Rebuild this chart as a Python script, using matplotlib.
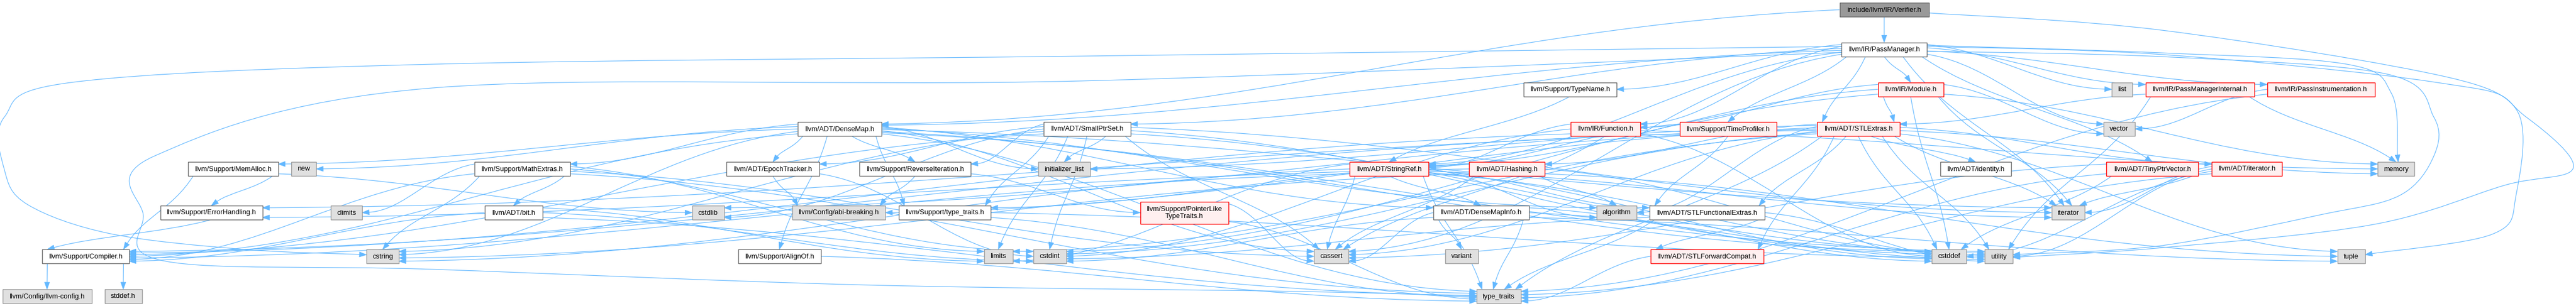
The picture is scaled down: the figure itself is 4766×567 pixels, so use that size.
import matplotlib
matplotlib.use("Agg")
import matplotlib.pyplot as plt
from matplotlib.path import Path
from matplotlib.patches import PathPatch, Rectangle, Polygon
import numpy as np

W, H, DPI = 4766, 567, 100

# ---------------- data: nodes (labels + kind) ----------------
labels = {
    "V": "include/llvm/IR/Verifier.h", "PM": "llvm/IR/PassManager.h",
    "TN": "llvm/Support/TypeName.h", "MOD": "llvm/IR/Module.h", "LIST": "list",
    "PMI": "llvm/IR/PassManagerInternal.h", "PI": "llvm/IR/PassInstrumentation.h",
    "DM": "llvm/ADT/DenseMap.h", "SPS": "llvm/ADT/SmallPtrSet.h", "FN": "llvm/IR/Function.h",
    "TP": "llvm/Support/TimeProfiler.h", "STLE": "llvm/ADT/STLExtras.h", "VEC": "vector",
    "MA": "llvm/Support/MemAlloc.h", "NEW": "new", "ME": "llvm/Support/MathExtras.h",
    "ET": "llvm/ADT/EpochTracker.h", "RI": "llvm/Support/ReverseIteration.h",
    "IL": "initializer_list", "SR": "llvm/ADT/StringRef.h", "HA": "llvm/ADT/Hashing.h",
    "ID": "llvm/ADT/identity.h", "TPV": "llvm/ADT/TinyPtrVector.h", "ITH": "llvm/ADT/iterator.h",
    "MEM": "memory", "EH": "llvm/Support/ErrorHandling.h", "CLIM": "climits",
    "BIT": "llvm/ADT/bit.h", "CSTDLIB": "cstdlib", "ABI": "llvm/Config/abi-breaking.h",
    "STT": "llvm/Support/type_traits.h", "PLT": "llvm/Support/PointerLike\nTypeTraits.h",
    "DMI": "llvm/ADT/DenseMapInfo.h", "ALG": "algorithm", "SFE": "llvm/ADT/STLFunctionalExtras.h",
    "ITER": "iterator", "COMP": "llvm/Support/Compiler.h", "CSTRING": "cstring",
    "AO": "llvm/Support/AlignOf.h", "LIM": "limits", "CSTDINT": "cstdint", "CASSERT": "cassert",
    "VAR": "variant", "SFC": "llvm/ADT/STLForwardCompat.h", "CSTDDEF": "cstddef",
    "UTIL": "utility", "TUPLE": "tuple", "LLC": "llvm/Config/llvm-config.h",
    "STDDEF": "stddef.h", "TT": "type_traits",
}
root_nodes = ["V"]
red_nodes = ["MOD", "PMI", "PI", "FN", "TP", "STLE", "SR", "HA", "TPV", "ITH", "PLT", "SFC"]
system_nodes = ["LIST", "VEC", "MEM", "NEW", "IL", "CLIM", "CSTDLIB", "ABI", "ALG", "ITER",
                "VAR", "CASSERT", "CSTRING", "LIM", "CSTDINT", "CSTDDEF", "UTIL", "TUPLE",
                "LLC", "STDDEF", "TT"]

# ---------------- data: include edges ----------------
includes = {
    "V": ["DM", "PM", "UTIL"],
    "PM": ["DM", "SPS", "FN", "TP", "STLE", "MOD", "TN", "SR", "TPV", "PI", "PMI", "CASSERT",
           "CSTRING", "ITER", "LIST", "MEM", "TUPLE", "TT", "UTIL", "VEC"],
    "TN": ["SR"],
    "MOD": ["STLE", "SR", "FN", "CSTDDEF", "CSTDINT", "ITER", "MEM", "VEC"],
    "PMI": ["STLE", "MEM", "UTIL"],
    "PI": ["VEC", "TT"],
    "DM": ["DMI", "ET", "AO", "COMP", "ME", "MA", "RI", "STT", "ALG", "CASSERT", "CSTDDEF",
           "CSTRING", "IL", "ITER", "NEW", "TT", "UTIL"],
    "SPS": ["ET", "COMP", "RI", "STT", "CASSERT", "CSTDDEF", "CSTDLIB", "CSTRING", "IL",
            "ITER", "LIM", "UTIL", "CSTDINT"],
    "FN": ["SR", "COMP", "CASSERT", "CSTDDEF", "CSTDINT", "MEM"],
    "TP": ["SFE", "SR", "COMP"],
    "STLE": ["HA", "SFC", "SFE", "ITH", "ID", "ABI", "EH", "ALG", "CASSERT", "CSTDDEF",
             "CSTDINT", "CSTDLIB", "IL", "ITER", "LIM", "MEM", "TUPLE", "TT", "UTIL"],
    "MA": ["COMP", "EH", "CSTDLIB"],
    "EH": ["COMP"],
    "COMP": ["LLC", "STDDEF"],
    "ME": ["BIT", "COMP", "CASSERT", "CLIM", "CSTDINT", "CSTRING", "LIM", "TT"],
    "BIT": ["COMP", "CSTDINT", "LIM", "TT"],
    "ET": ["ABI", "CSTDINT"],
    "RI": ["ABI", "PLT"],
    "STT": ["TT", "UTIL"],
    "PLT": ["CASSERT", "TT"],
    "AO": ["TT"],
    "DMI": ["CASSERT", "CSTDDEF", "CSTDINT", "TUPLE", "TT", "UTIL", "VAR"],
    "SR": ["DMI", "SFE", "COMP", "ALG", "CASSERT", "CSTDDEF", "CSTRING", "ITER", "LIM", "TT", "UTIL"],
    "HA": ["EH", "STT", "ALG", "CASSERT", "CSTRING", "TUPLE", "UTIL"],
    "SFE": ["SFC", "CSTDINT", "TT", "UTIL"],
    "SFC": ["TT"],
    "TPV": ["CASSERT", "CSTDDEF", "ITER", "TT"],
    "ITH": ["ITER", "CSTDDEF", "TT", "UTIL"],
}

# ---------------- layout (centre x, rank, box width) ----------------
ROW_Y = [18, 91.5, 165.5, 239, 313, 394, 475, 549]
layout = {
    "V": (3486, 0, 165), "PM": (3486, 1, 158),
    "TN": (2905, 2, 172), "MOD": (3535, 2, 121), "LIST": (3926, 2, 38),
    "PMI": (4070, 2, 201), "PI": (4294, 2, 199),
    "DM": (1553, 3, 155), "SPS": (2011, 3, 161), "FN": (2970, 3, 129), "TP": (3197, 3, 179),
    "STLE": (3438, 3, 153), "VEC": (3921, 3, 58),
    "MA": (431, 4, 167), "NEW": (562, 4, 46), "ME": (966, 4, 177), "ET": (1430, 4, 172),
    "RI": (1693, 4, 206), "IL": (1969, 4, 96), "SR": (2570, 4, 146), "HA": (2788, 4, 140),
    "ID": (3655, 4, 131), "TPV": (3982, 4, 170), "ITH": (4157, 4, 130), "MEM": (4433, 4, 68),
    "EH": (391, 5, 189), "CLIM": (641, 5, 58), "BIT": (950, 5, 107), "CSTDLIB": (1310, 5, 59),
    "ABI": (1552, 5, 172), "STT": (1748, 5, 170), "PLT": (2191, 5, 163), "DMI": (2740, 5, 177),
    "ALG": (2991, 5, 74), "SFE": (3158, 5, 213), "ITER": (3826, 5, 61),
    "COMP": (158, 6, 161), "CSTRING": (708, 6, 60), "AO": (1442, 6, 153), "LIM": (1847, 6, 53),
    "CSTDINT": (1942, 6, 61), "CASSERT": (2463, 6, 64), "VAR": (2704, 6, 61),
    "SFC": (3158, 6, 209), "CSTDDEF": (3606, 6, 64), "UTIL": (3698, 6, 52), "TUPLE": (4350, 6, 51),
    "LLC": (87, 7, 165), "STDDEF": (228, 7, 69), "TT": (2773, 7, 82),
}

# hand-routed long edges that go around the drawing (waypoints, layout only)
routes = {
    ("PM", "CSTRING"): [(3407, 86), (2000, 104), (800, 119), (138, 152), (8, 217), (8, 314),
                        (51, 379), (204, 433), (450, 462), (678, 472)],
    ("PM", "TT"): [(3407, 97), (2000, 150), (800, 163), (286, 289), (265, 398), (306, 484),
                   (800, 499), (1600, 528), (2400, 540), (2732, 549)],
    ("V", "UTIL"): [(3569, 24), (4000, 56), (4537, 145), (4674, 217), (4761, 311),
                    (4635, 343), (4391, 416), (4000, 459), (3724, 477)],
    ("PM", "TUPLE"): [(3565, 86), (4000, 101), (4503, 152), (4655, 202), (4655, 362),
                      (4611, 434), (4376, 472)],
    ("PM", "MEM"): [(3565, 84), (4000, 98), (4342, 119), (4425, 174), (4437, 300)],
    ("PM", "UTIL"): [(3565, 95), (4000, 105), (4415, 137), (4503, 217), (4503, 289),
                     (4440, 362), (4293, 398), (4000, 455), (3724, 472)],
}

EDGE_COLOR = "#63B8FF"
FONT = ["Liberation Sans", "DejaVu Sans"]
FS = 9.3


def style(n):
    if n in root_nodes:
        return "#999999", "#666666"
    if n in red_nodes:
        return "#FFF0F0", "#FF0000"
    if n in system_nodes:
        return "#E0E0E0", "#999999"
    return "#FFFFFF", "#666666"


def bbox(n):
    cx, r, w = layout[n]
    h = 41 if "\n" in labels[n] else 26
    cy = ROW_Y[r]
    return cx - w / 2, cx + w / 2, cy - h / 2, cy + h / 2


fig = plt.figure(figsize=(W / DPI, H / DPI), dpi=DPI)
ax = fig.add_axes([0, 0, 1, 1])
ax.set_xlim(0, W)
ax.set_ylim(H, 0)
ax.axis("off")

edge_list = [(s, t) for s in includes for t in includes[s]]

info = {}
slots = {}
for s, t in edge_list:
    if (s, t) in routes:
        continue
    sx0, sx1, sy0, sy1 = bbox(s)
    tx0, tx1, ty0, ty1 = bbox(t)
    scx, tcx = (sx0 + sx1) / 2, (tx0 + tx1) / 2
    scy, tcy = (sy0 + sy1) / 2, (ty0 + ty1) / 2
    gap = max(0.0, tx0 - sx1, sx0 - tx1)
    dy = ty0 - sy1
    side = dy <= 0 or gap > 2.5 * dy
    if side:
        sf = "R" if tcx > scx else "L"
        tf = "L" if tcx > scx else "R"
        skey, tkey = (tcy, abs(tcx - scx)), (scy, -abs(tcx - scx))
    else:
        sf, tf = "B", "T"
        skey, tkey = (tcx,), (scx,)
    info[(s, t)] = side
    slots.setdefault((s, sf), []).append((skey, (s, t), "src"))
    slots.setdefault((t, tf), []).append((tkey, (s, t), "dst"))

points = {}
for (n, face), items in slots.items():
    x0, x1, y0, y1 = bbox(n)
    items.sort(key=lambda it: it[0])
    k = len(items)
    if face in ("B", "T"):
        m = min(10, (x1 - x0) * 0.15)
        xs = [(x0 + x1) / 2] if k == 1 else list(np.linspace(x0 + m, x1 - m, k))
        y = y1 if face == "B" else y0
        for (key, e, role), x in zip(items, xs):
            points[(e, role)] = (x, y)
    else:
        m = 4
        ys = [(y0 + y1) / 2] if k == 1 else list(np.linspace(y0 + m, y1 - m, k))
        x = x1 if face == "R" else x0
        for (key, e, role), y in zip(items, ys):
            points[(e, role)] = (x, y)

AL, AW = 13.0, 4.6


def arrowhead(tip, d):
    d = d / (np.hypot(*d) + 1e-9)
    base = tip - AL * d
    nrm = np.array([-d[1], d[0]])
    ax.add_patch(Polygon([tip, base + AW * nrm, base - AW * nrm], closed=True,
                         fc=EDGE_COLOR, ec=EDGE_COLOR, lw=0.6, zorder=2))
    return base


for s, t in edge_list:
    if (s, t) in routes:
        pts = [np.array(p, float) for p in routes[(s, t)]]
        verts = [pts[0]]
        codes = [Path.MOVETO]
        n = len(pts)
        d_end = pts[-1] - pts[-2]
        tip = pts[-1]
        base = tip - AL * d_end / np.hypot(*d_end)
        pts[-1] = base
        for i in range(n - 1):
            q0 = pts[i - 1] if i > 0 else pts[i]
            q1, q2 = pts[i], pts[i + 1]
            q3 = pts[i + 2] if i + 2 < n else pts[i + 1]
            verts += [q1 + (q2 - q0) / 6, q2 - (q3 - q1) / 6, q2]
            codes += [Path.CURVE4] * 3
        ax.add_patch(PathPatch(Path(verts, codes), fc="none", ec=EDGE_COLOR, lw=0.85, zorder=1))
        arrowhead(tip, d_end)
        continue
    p0 = np.array(points[((s, t), "src")])
    p3 = np.array(points[((s, t), "dst")])
    D = p3 - p0
    if info[(s, t)]:
        p1 = p0 + np.array([0.38 * D[0], 0.15 * D[1]])
        p2 = p3 - np.array([0.38 * D[0], 0.05 * D[1]])
    else:
        p1 = p0 + np.array([0.3 * D[0], 0.45 * D[1]])
        p2 = p3 - np.array([0.3 * D[0], 0.45 * D[1]])
    base = arrowhead(p3, p3 - p2)
    path = Path([p0, p1, p2, base], [Path.MOVETO, Path.CURVE4, Path.CURVE4, Path.CURVE4])
    ax.add_patch(PathPatch(path, fc="none", ec=EDGE_COLOR, lw=0.85, zorder=1))

for n in layout:
    x0, x1, y0, y1 = bbox(n)
    fc, ec = style(n)
    ax.add_patch(Rectangle((x0, y0), x1 - x0, y1 - y0, fc=fc, ec=ec, lw=1.0, zorder=3))
    ax.text((x0 + x1) / 2, (y0 + y1) / 2 + 0.5, labels[n], ha="center", va="center",
            fontsize=FS, family=FONT, color="black", zorder=4, linespacing=1.15)

fig.savefig("out.png", dpi=DPI)
